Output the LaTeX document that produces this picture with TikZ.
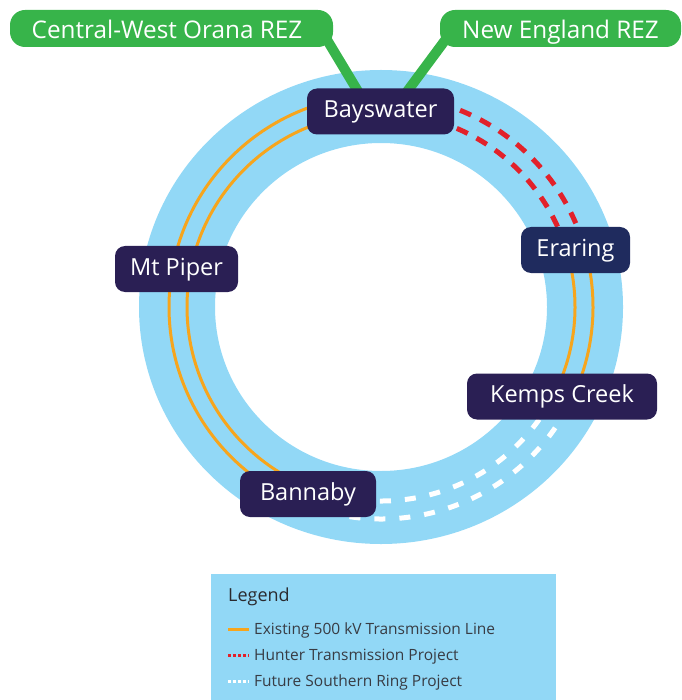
\documentclass[tikz,border=0pt]{standalone}
\usepackage{fontspec}
\setmainfont{Open Sans}
\usetikzlibrary{backgrounds,calc}
\definecolor{ringblue}{HTML}{92D8F6}
\definecolor{orng}{HTML}{F7A51C}
\definecolor{rred}{HTML}{E2212A}
\definecolor{ggreen}{HTML}{37B44A}
\definecolor{navy}{HTML}{2A1F54}
\definecolor{navyb}{HTML}{1F2B5E}
\definecolor{legtext}{HTML}{383C44}
\definecolor{legtitle}{HTML}{2A2A2E}
\tikzset{
  stn/.style={fill=navy, rounded corners=10pt, text=white, font=\fontsize{23.5}{28}\selectfont,
    minimum height=46pt, inner sep=0pt, text height=17pt, text depth=5pt},
  rez/.style={fill=ggreen, rounded corners=15pt, text=white, font=\fontsize{24.3}{29}\selectfont,
    minimum height=37pt, inner xsep=0pt, inner ysep=0pt, text height=25pt, text depth=4pt},
  existline/.style={draw=orng, line width=3pt},
  hunterline/.style={draw=rred, line width=5pt, dash pattern=on 12pt off 10pt},
  southline/.style={draw=white, line width=5pt, dash pattern=on 11pt off 14pt},
  rezlink/.style={draw=ggreen, line width=10pt},
  legitem/.style={anchor=base west, text=legtext, font=\fontsize{15.5}{18}\selectfont, inner sep=0pt},
}
\begin{document}
\begin{tikzpicture}[x=1pt,y=1pt]
\useasboundingbox (0,0) rectangle (681,-700);
\coordinate (C) at (381,-307);

% REZ labels
\node[rez, minimum width=323pt] (cwo) at (171.5,-28.5) {Central-West Orana REZ\hspace*{9pt}};
\node[rez, minimum width=241pt] (neng) at (560.5,-28.5) {New England REZ};

% stations
\node[stn, minimum width=147pt] (bay) at (380.5,-111.5) {Bayswater};
\node[stn, fill=navyb, minimum width=109pt] (era) at (575.5,-250) {Eraring};
\node[stn, minimum width=123pt] (mtp) at (176.5,-269) {Mt Piper};
\node[stn, minimum width=190pt] (kem) at (562,-396.5) {Kemps Creek};
\node[stn, minimum width=136pt] (ban) at (308,-494) {Bannaby};

\begin{scope}[on background layer]
  \fill[ringblue, even odd rule] (C) ellipse [x radius=242, y radius=237]
                                 (C) ellipse [x radius=166, y radius=164];
  \foreach \r in {194,212} {
    \draw[existline] ($(C)+(90:\r)$) arc[start angle=90, end angle=250, radius=\r];
    \draw[existline] ($(C)+(14:\r)$) arc[start angle=14, end angle=-24, radius=\r];
    \draw[hunterline] ($(C)+(80:\r)$) arc[start angle=80, end angle=20, radius=\r];
    \draw[southline] ($(C)+(-28:\r)$) arc[start angle=-28, end angle=-100, radius=\r];
  }
  \draw[rezlink] ($(cwo.east)+(-13,0)$) -- ($(bay.north)+(-22,-4)$);
  \draw[rezlink] ($(neng.west)+(14,0)$) -- ($(bay.north)+(26,-4)$);
\end{scope}

% legend
\fill[ringblue] (211,-574) rectangle (556,-700);
\node[anchor=base west, text=legtitle, font=\fontsize{18}{22}\selectfont, inner sep=0pt] (legtitle) at (228,-601) {Legend};
\coordinate (l1a) at (228,-629); \coordinate (l1b) at (249,-629);
\coordinate (l2a) at (228,-655.5); \coordinate (l2b) at (249,-655.5);
\coordinate (l3a) at (228,-681.5); \coordinate (l3b) at (249,-681.5);
\draw[draw=orng, line width=3pt] (l1a) -- (l1b);
\draw[draw=rred, line width=3pt, dash pattern=on 3pt off 2pt] (l2a) -- (l2b);
\draw[draw=white, line width=3pt, dash pattern=on 3pt off 2pt] (l3a) -- (l3b);
\node[legitem] (li1) at (254,-634) {Existing 500 kV Transmission Line};
\node[legitem] (li2) at (254,-660) {Hunter Transmission Project};
\node[legitem] (li3) at (254,-686.5) {Future Southern Ring Project};
\end{tikzpicture}
\end{document}
